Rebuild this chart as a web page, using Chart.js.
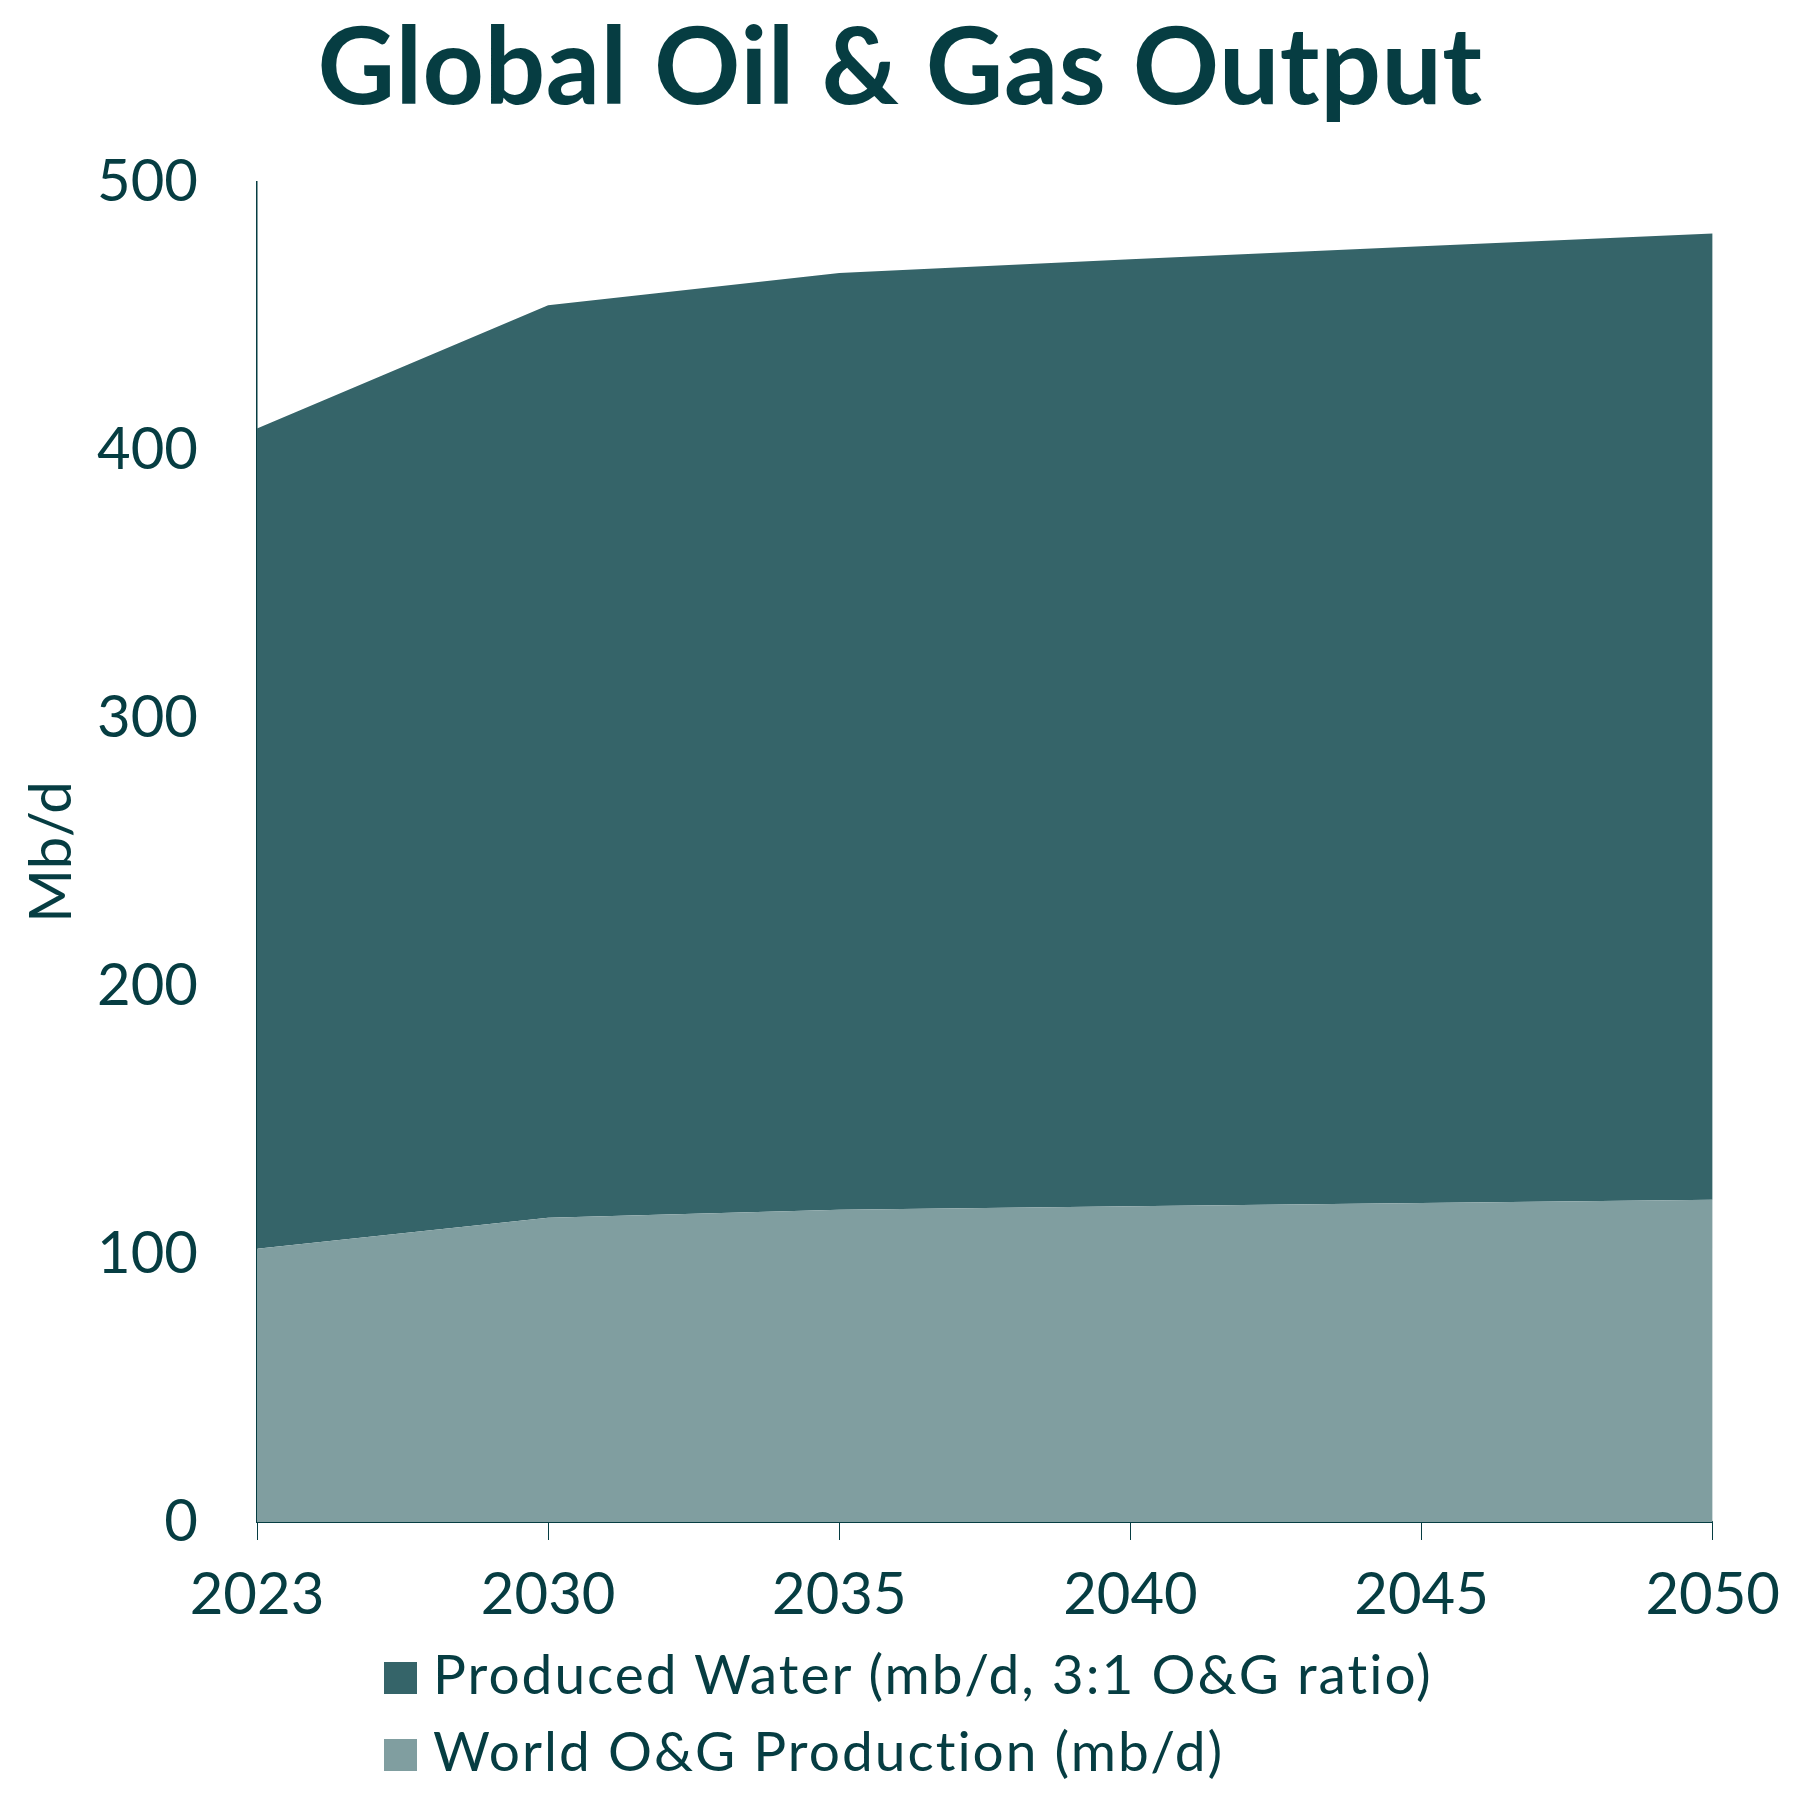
<!DOCTYPE html>
<html>
<head>
<meta charset="utf-8">
<script src="https://cdn.jsdelivr.net/npm/chart.js@4"></script>
<style>
  body { margin: 0; background: #fff; }
  #wrap { position: relative; width: 1800px; height: 1800px; font-family: Lato, sans-serif; color: #063d42; font-variant-ligatures: none; }
  #title { position: absolute; left: 0; width: 1800px; top: 9px; text-align: center; font-size: 107px; font-weight: 700; line-height: 1; letter-spacing: 0.5px; }
  .leg { position: absolute; left: 384px; font-size: 55px; line-height: 1; white-space: nowrap; }
  .leg span.box { display: inline-block; width: 33px; height: 32px; position: absolute; left: 0; top: 16px; }
  .leg span.txt { position: absolute; left: 49px; top: 0; letter-spacing: 2px; }
</style>
</head>
<body>
<div id="wrap">
  <canvas id="chart" width="1800" height="1800"></canvas>
  <div id="title">Global Oil &amp; Gas Output</div>
  <div id="legend"></div>
</div>
<script>
const years = ['2023', '2030', '2035', '2040', '2045', '2050'];
const production = [102, 113.5, 116.5, 117.8, 119, 120.2];
const producedWater = [306, 340.5, 349.5, 353.4, 357, 360.6];
const yTicks = [0, 100, 200, 300, 400, 500];

const ink = '#063d42';
const waterColor = '#356469';
const prodColor = '#809ea0';

// legend: top row is the upper band
const legendItems = [
    { label: 'Produced Water (mb/d, 3:1 O&G ratio)', color: waterColor },
    { label: 'World O&G Production (mb/d)', color: prodColor }
];
const legend = document.getElementById('legend');
legendItems.forEach((item, i) => {
    legend.innerHTML += `
        <div class="leg" style="top:${1646 + i * 77}px">
            <span class="box" style="background:${item.color}"></span>
            <span class="txt">${item.label}</span>
        </div>`;
});

const ctx = document.getElementById('chart').getContext('2d');
new Chart(ctx, {
    type: 'line',
    data: {
        labels: years,
        datasets: [{
            label: 'World O&G Production (mb/d)',
            data: production,
            backgroundColor: prodColor,
            borderWidth: 0,
            pointRadius: 0,
            fill: 'origin'
        }, {
            label: 'Produced Water (mb/d, 3:1 O&G ratio)',
            data: producedWater,
            backgroundColor: waterColor,
            borderWidth: 0,
            pointRadius: 0,
            fill: '-1'
        }]
    },
    options: {
        responsive: false,
        animation: false,
        devicePixelRatio: 1,
        layout: { padding: { top: 182, right: 82, bottom: 0, left: 0 } },
        plugins: {
            legend: { display: false },
            title: { display: false },
            tooltip: { enabled: false }
        },
        scales: {
            x: {
                offset: false,
                grid: { display: true, drawOnChartArea: false, drawTicks: true, tickLength: 18, color: ink, lineWidth: 1 },
                border: { display: true, color: ink, width: 2 },
                ticks: { color: ink, padding: 20, font: { family: 'Lato', size: 58 }, maxRotation: 0 },
                afterFit(s) { s.height = 278; }
            },
            y: {
                stacked: true,
                min: 0,
                max: 500,
                afterBuildTicks(s) { s.ticks = yTicks.map(v => ({ value: v })); },
                grid: { display: false, drawTicks: false },
                border: { display: true, color: ink, width: 1.5 },
                ticks: { color: ink, padding: 59, font: { family: 'Lato', size: 58 } },
                title: { display: true, text: 'Mb/d', color: ink, padding: { top: 17, bottom: 0 }, font: { family: 'Lato', size: 58 } },
                afterFit(s) { s.width = 257; }
            }
        }
    }
});
</script>
</body>
</html>
